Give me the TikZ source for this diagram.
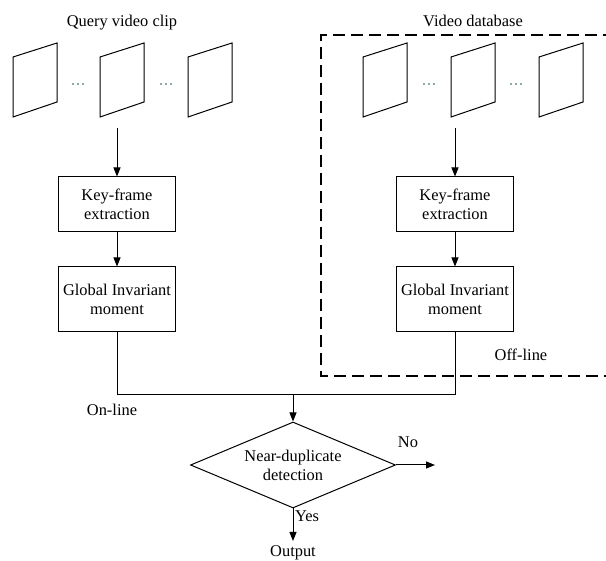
\documentclass[tikz,border=0pt]{standalone}
\usepackage{fontspec}
\setmainfont{Liberation Serif}
\usetikzlibrary{arrows.meta,shapes.geometric}
\begin{document}
\begin{tikzpicture}[x=1pt,y=-1pt,
  every node/.style={font=\fontsize{16.4}{19}\selectfont},
  line/.style={line width=1pt,draw=black},
  arr/.style={line width=1pt,-{Triangle[length=9pt,width=7pt]}},
  procbox/.style={draw,line width=1pt,minimum width=117pt,align=center,inner sep=0pt},
  decision/.style={draw,line width=1pt,diamond,aspect=2.38,minimum width=205pt,minimum height=86pt,inner sep=0pt,align=center},
  lbl/.style={anchor=base,inner sep=0pt},
  dotc/.style={fill={rgb,255:red,30;green,85;blue,85}}
]
\useasboundingbox (0,0) rectangle (606,561);
% frames
\foreach \x in {13,100,188,363,451,539}{
  \draw[line] (\x,57) -- (\x+44,43) -- (\x+44,102) -- (\x,117) -- cycle;
}
% dots
\foreach \x in {78,166,429,516}{
  \foreach \d in {-5,0,5}{
    \fill[dotc] (\x+\d,84) circle (0.8);
  }
}
% labels
\node[lbl] (qlbl) at (122,27) {Query video clip};
\node[lbl] (dblbl) at (473,27) {Video database};
\node[lbl] (offl) at (521,361) {Off-line};
\node[lbl] (onl) at (112,416) {On-line};
% dashed region
\draw[line width=1.8pt,dash pattern=on 12pt off 6pt] (615,35) -- (321,35) -- (321,376) -- (615,376);
% boxes
\node[procbox,minimum height=55pt] (kf1) at (117,204.5) {Key-frame\\extraction};
\node[procbox,minimum height=65pt] (gim1) at (117,299.5) {Global Invariant\\moment};
\node[procbox,minimum height=55pt] (kf2) at (455,204.5) {Key-frame\\extraction};
\node[procbox,minimum height=65pt] (gim2) at (455,299.5) {Global Invariant\\moment};
\coordinate (s1) at (117,128);
\coordinate (s2) at (455,128);
\draw[arr] (s1) -- (kf1);
\draw[arr] (s2) -- (kf2);
\draw[arr] (kf1) -- (gim1);
\draw[arr] (kf2) -- (gim2);
% merge
\coordinate (m1) at (117,395);
\coordinate (m2) at (455,395);
\coordinate (mj) at (293,395);
\draw[line] (gim1.south) -- (m1) -- (m2) -- (gim2.south);
\node[decision] (dec) at (293,465) {Near-duplicate\\detection};
\draw[arr] (mj) -- (dec.north);
\coordinate (noend) at (435,465);
\draw[arr] (dec.east) -- (noend);
\node[lbl] (nolbl) at (408,448) {No};
\coordinate (yesend) at (293,541);
\draw[arr] (dec.south) -- (yesend);
\node[lbl] (yeslbl) at (307,522) {Yes};
\node[lbl] (outlbl) at (293,556.5) {Output};
\end{tikzpicture}
\end{document}
